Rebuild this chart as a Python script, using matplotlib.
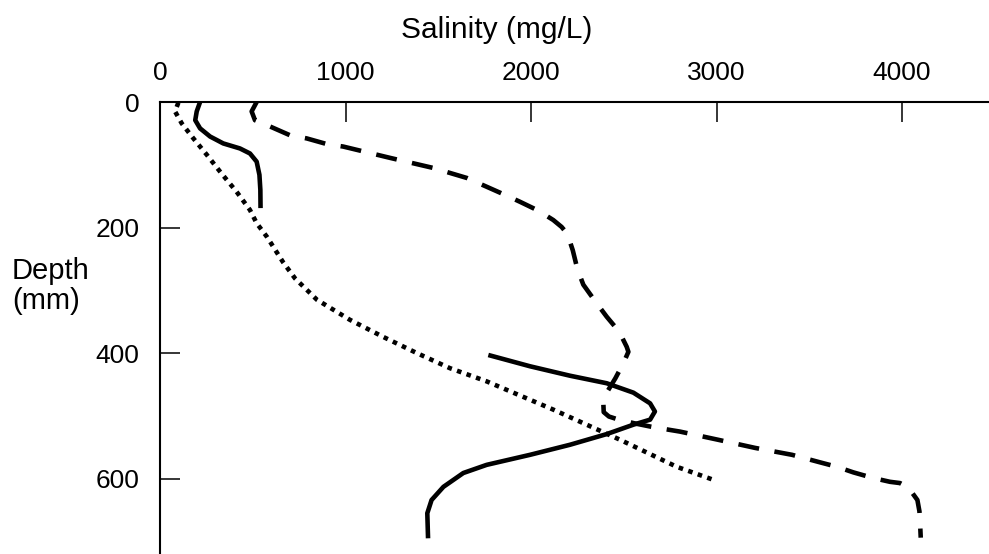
import matplotlib
matplotlib.use("Agg")
import matplotlib.pyplot as plt

plt.rcParams['font.family'] = ['Liberation Sans', 'DejaVu Sans']

# Upper solid profile
solid_a_sal = [216, 198, 190, 216, 270, 341, 431, 485, 521, 536, 541, 542]
solid_a_depth = [0, 15, 29, 42, 55, 66, 74, 82, 95, 116, 140, 169]

# Lower solid profile
solid_b_sal = [1770, 1995, 2210, 2408, 2552, 2642, 2668, 2642, 2552, 2408,
               2210, 1995, 1761, 1635, 1528, 1464, 1441, 1445]
solid_b_depth = [403, 421, 436, 448, 463, 480, 493, 506, 514, 529,
                 546, 562, 578, 591, 613, 634, 655, 695]

# Dashed profile
dashed_sal = [521, 494, 512, 593, 701, 791, 899, 988, 1240, 1472, 1654,
              1761, 1860, 1941, 2039, 2120, 2165, 2196, 2225, 2250, 2282,
              2350, 2408, 2476, 2516, 2525, 2498, 2455, 2410, 2390, 2392,
              2420, 2462, 2560, 2660, 2803, 3008, 3208, 3407, 3558, 3648,
              3738, 3845, 3935, 3989, 4034, 4083, 4094, 4097, 4101]
dashed_depth = [0, 15, 29, 39, 53, 58, 67, 71, 89, 105, 121,
                135, 148, 159, 173, 188, 199, 210, 236, 266, 291,
                319, 342, 366, 390, 398, 416, 440, 462, 480, 494,
                501, 505, 512, 518, 525, 538, 551, 562, 574, 581,
                590, 599, 605, 607, 614, 634, 652, 668, 694]

# Dotted profile
dotted_sal = [99, 81, 117, 180, 252, 332, 413, 485, 521, 577, 663, 728, 846,
              1024, 1202, 1385, 1563, 1761, 2120, 2480, 2785, 2975]
dotted_depth = [1, 15, 34, 58, 84, 114, 143, 172, 193, 215, 255, 281, 315,
                347, 374, 400, 424, 445, 490, 538, 581, 601]

x_ticks = [0, 1000, 2000, 3000, 4000]
y_ticks = [0, 200, 400, 600]

fig = plt.figure(figsize=(9.89, 5.54), dpi=100)
ax = fig.add_axes([160/989, 0.0, 1 - 160/989, 1 - 102/554])

lw = 3.3
ax.plot(solid_a_sal, solid_a_depth, color='black', lw=lw,
        solid_capstyle='butt', solid_joinstyle='round')
ax.plot(solid_b_sal, solid_b_depth, color='black', lw=lw,
        solid_capstyle='butt', solid_joinstyle='round')
ax.plot(dashed_sal, dashed_depth, color='black', lw=lw, dashes=(4.6, 3.4),
        dash_joinstyle='round')
ax.plot(dotted_sal, dotted_depth, color='black', lw=lw, dashes=(1.0, 1.2))

ax.set_xlim(0, 4469)
ax.set_ylim(720, 0)

ax.xaxis.tick_top()
ax.set_xticks(x_ticks)
ax.set_yticks(y_ticks)
ax.set_xticklabels([str(v) for v in x_ticks])
ax.set_yticklabels([str(v) for v in y_ticks])
ax.tick_params(axis='both', direction='in', length=14.4, width=1.1,
               labelsize=19, colors='black')
ax.tick_params(axis='x', pad=12)
ax.tick_params(axis='y', pad=15)

for s in ['right', 'bottom']:
    ax.spines[s].set_visible(False)
for s in ['top', 'left']:
    ax.spines[s].set_linewidth(1.5)
    ax.spines[s].set_color('black')

fig.text(497/989, 1 - 30/554, 'Salinity (mg/L)', ha='center', va='center',
         fontsize=21.5)
fig.text(12/989, 1 - 286/554, 'Depth\n(mm)', ha='left', va='center',
         fontsize=21, multialignment='left', linespacing=1.1)

fig.savefig('out.png', dpi=100)
